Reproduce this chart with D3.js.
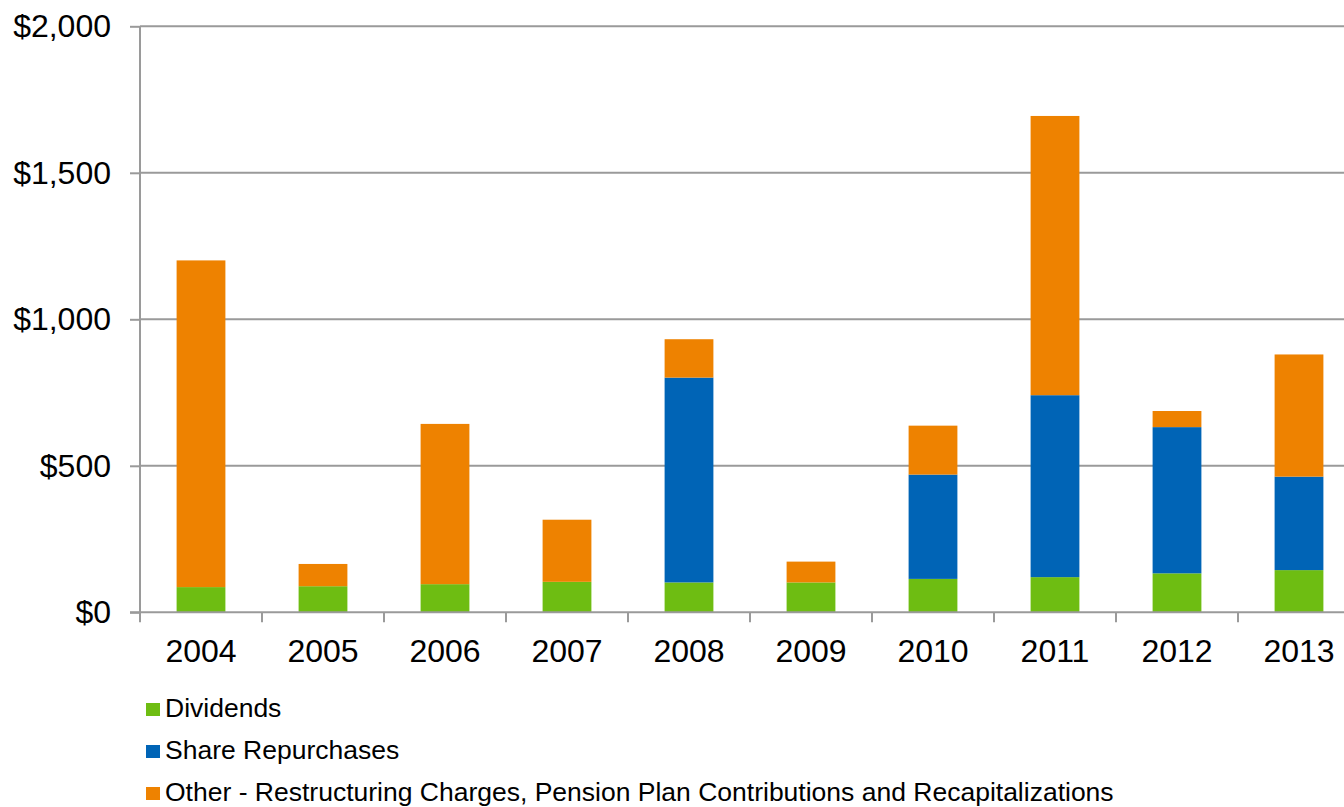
<html>
<head>
	<meta charset="utf-8">
	<title>Uses of cash 2004-2013</title>
</head>

<style>
body{
	margin: 0;
	background: white;
}

.grid line{
	stroke: #9a9a9a;
	stroke-width: 2px;
}

.axis path, .axis line{
	stroke: #9a9a9a;
	stroke-width: 2px;
	fill: none;
}

.axis text, .legend text{
	font-family: "Liberation Sans", Arial, sans-serif;
	fill: black;
}
</style>

<body>

<script src="https://cdn.jsdelivr.net/npm/d3@7"></script>
<script>

var width = 1344;
var height = 807;

// data ($ millions)
var years = ["2004","2005","2006","2007","2008","2009","2010","2011","2012","2013"];
var dividends   = [86, 89, 96, 104, 102, 102, 114, 120, 133, 144];
var repurchases = [0, 0, 0, 0, 699, 0, 356, 621, 499, 319];
var other       = [1115, 76, 547, 212, 131, 71, 167, 953, 55, 417];

var seriesNames = ["Dividends", "Share Repurchases",
	"Other - Restructuring Charges, Pension Plan Contributions and Recapitalizations"];
var seriesColors = ["#6EBD12", "#0064B6", "#EE8200"];
var yTicks = [0, 500, 1000, 1500, 2000];

var svg = d3.select("body").append("svg")
			.attr("width",width)
			.attr("height",height);

var plot = {left:140, top:26.3, bottom:612.3};

var x = d3.scaleBand()
		.domain(years)
		.range([plot.left, plot.left + 122*years.length])
		.paddingInner(0.6)
		.paddingOuter(0.3);

var y = d3.scaleLinear()
		.domain([0, 2000])
		.range([plot.bottom, plot.top]);

// table for the stack
var table = years.map(function(yr, i){
	return {year: yr, d: dividends[i], r: repurchases[i], o: other[i]};
});
var stack = d3.stack().keys(["d","r","o"]);
var layers = stack(table);

//水平网格线
svg.append("g")
	.attr("class","grid")
	.selectAll("line")
	.data(yTicks.filter(function(v){ return v > 0; }))
	.enter().append("line")
	.attr("x1",plot.left)
	.attr("x2",width)
	.attr("y1",function(d){ return y(d); })
	.attr("y2",function(d){ return y(d); });

//柱子
svg.append("g")
	.selectAll("g")
	.data(layers)
	.enter().append("g")
	.attr("fill",function(d,i){ return seriesColors[i]; })
	.selectAll("rect")
	.data(function(d){ return d; })
	.enter().append("rect")
	.attr("x",function(d){ return x(d.data.year); })
	.attr("width",x.bandwidth())
	.attr("y",function(d){ return y(d[1]); })
	.attr("height",function(d){ return y(d[0]) - y(d[1]); });

//y轴
var yAxis = d3.axisLeft(y)
		.tickValues(yTicks)
		.tickSize(10)
		.tickPadding(19)
		.tickFormat(function(d){ return "$" + d3.format(",")(d); });

svg.append("g")
	.attr("class","axis")
	.attr("transform","translate(" + plot.left + ",0)")
	.call(yAxis)
	.call(function(g){ g.select(".domain").attr("d","M0," + plot.top + "V" + plot.bottom); })
	.selectAll("text")
	.style("font-size","32px");

//x轴，刻度在类别之间
var xAxisG = svg.append("g")
	.attr("class","axis")
	.attr("transform","translate(0," + plot.bottom + ")");

xAxisG.append("line")
	.attr("x1",plot.left - 10)
	.attr("x2",width)
	.attr("y1",0)
	.attr("y2",0);

var halfGap = x.step()*x.paddingInner()/2;

xAxisG.selectAll("line.tick")
	.data(years)
	.enter().append("line")
	.attr("class","tick")
	.attr("x1",function(d){ return x(d) - halfGap; })
	.attr("x2",function(d){ return x(d) - halfGap; })
	.attr("y1",0)
	.attr("y2",10);

xAxisG.selectAll("text")
	.data(years)
	.enter().append("text")
	.attr("x",function(d){ return x(d) + x.bandwidth()/2; })
	.attr("y",50)
	.attr("text-anchor","middle")
	.style("font-size","32px")
	.text(function(d){ return d; });

//图例
var legend = svg.append("g")
	.attr("class","legend")
	.selectAll("g")
	.data(seriesNames)
	.enter().append("g")
	.attr("transform",function(d,i){ return "translate(146," + (709 + i*42) + ")"; });

legend.append("rect")
	.attr("x",0)
	.attr("y",-6)
	.attr("width",14)
	.attr("height",13)
	.attr("fill",function(d,i){ return seriesColors[i]; });

legend.append("text")
	.attr("x",19)
	.attr("y",8)
	.style("font-size","26.5px")
	.text(function(d){ return d; });

</script>
</body>
</html>
